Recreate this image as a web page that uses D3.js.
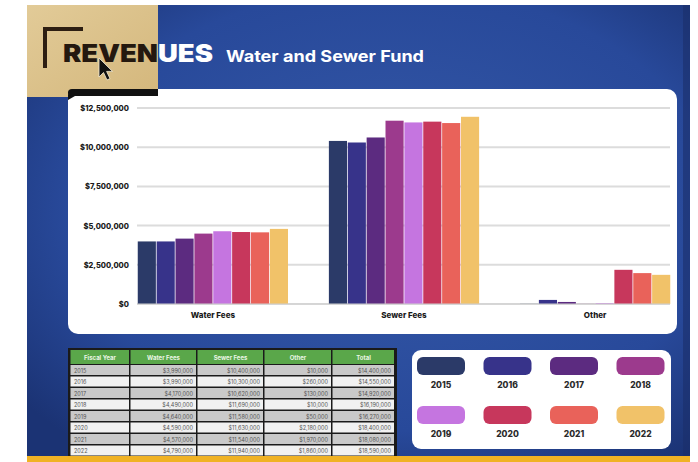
<!DOCTYPE html>
<html><head><meta charset="utf-8">
<script src="https://cdn.jsdelivr.net/npm/d3@7"></script>
<style>
html,body{margin:0;padding:0;background:#fff;}
svg{display:block;font-family:"Inter","Lato","DejaVu Sans",sans-serif;}
</style></head>
<body><svg id="c" width="698" height="462"></svg>
<script>
const categories = ["Water Fees", "Sewer Fees", "Other"];
const years = ["2015", "2016", "2017", "2018", "2019", "2020", "2021", "2022"];
const waterFees = [3990000, 3990000, 4170000, 4490000, 4640000, 4590000, 4570000, 4790000];
const sewerFees = [10400000, 10300000, 10620000, 11690000, 11580000, 11630000, 11540000, 11940000];
const otherRev  = [10000, 260000, 130000, 10000, 50000, 2180000, 1970000, 1860000];
const yearColors = ["#2b3a68", "#37338a", "#5c2b80", "#9c3a8d", "#c575e0", "#c7375c", "#e9625a", "#f1c269"];
const yTicks = [0, 2500000, 5000000, 7500000, 10000000, 12500000];
const tableHeaders = ["Fiscal Year", "Water Fees", "Sewer Fees", "Other", "Total"];

const svg = d3.select("#c");
const defs = svg.append("defs");

// background gradient
const bg = defs.append("radialGradient").attr("id","bg").attr("cx","55%").attr("cy","45%").attr("r","70%");
bg.append("stop").attr("offset","0%").attr("stop-color","#3559a8");
bg.append("stop").attr("offset","70%").attr("stop-color","#28499a");
bg.append("stop").attr("offset","100%").attr("stop-color","#1b3374");
const gold = defs.append("linearGradient").attr("id","gold").attr("x1","0").attr("y1","0").attr("x2","1").attr("y2","1");
gold.append("stop").attr("offset","0%").attr("stop-color","#e2cb98");
gold.append("stop").attr("offset","100%").attr("stop-color","#d4b77c");

svg.append("rect").attr("x",27).attr("y",5).attr("width",663).attr("height",453).attr("fill","url(#bg)");
svg.append("rect").attr("x",683).attr("y",5).attr("width",7).attr("height",453).attr("fill","#1b2f6a").attr("opacity",0.6);

// gold title box
svg.append("rect").attr("x",27).attr("y",5).attr("width",131).attr("height",92).attr("fill","url(#gold)");

// chart panel
svg.append("rect").attr("x",68).attr("y",89).attr("width",609).attr("height",245).attr("rx",10).attr("fill","#ffffff");
// black bar on top-left of panel
svg.append("path").attr("d","M68,100 L68,95 Q68,89 76,89 L158,89 L158,96 L75,96 Z").attr("fill","#111");
svg.append("rect").attr("x",68).attr("y",89).attr("width",90).attr("height",7).attr("rx",4).attr("fill","#111");

// bracket
svg.append("path").attr("d","M45,68 L45,29 L83,29").attr("fill","none").attr("stroke","#2d1e12").attr("stroke-width",4);

// title text with split colouring
defs.append("clipPath").attr("id","clipGold").append("rect").attr("x",0).attr("y",0).attr("width",158).attr("height",100);
defs.append("clipPath").attr("id","clipBlue").append("rect").attr("x",158).attr("y",0).attr("width",540).attr("height",100);
["clipGold","clipBlue"].forEach((cid,i)=>{
  svg.append("text").attr("x",63).attr("y",62).attr("clip-path",`url(#${cid})`)
    .attr("font-size",24).attr("font-weight",900).attr("fill", i===0 ? "#24180f" : "#ffffff")
    .attr("textLength",150).attr("lengthAdjust","spacingAndGlyphs").text("REVENUES");
});
svg.append("text").attr("x",226).attr("y",62).attr("font-size",16).attr("font-weight",700).attr("fill","#ffffff")
  .attr("textLength",198).attr("lengthAdjust","spacingAndGlyphs").text("Water and Sewer Fund");

// mouse cursor
svg.append("path").attr("d","M99,58 L99,77 L103.5,72.5 L107,80 L110,78.6 L106.6,71.4 L112.5,71.4 Z")
  .attr("fill","#111").attr("stroke","#f4ecd8").attr("stroke-width",0.8);

// scales
const y = d3.scaleLinear().domain([0, 12500000]).range([304, 108]);
const x0 = d3.scaleBand().domain(categories).range([137, 671]).paddingInner(0.206).paddingOuter(0);
const x1 = d3.scaleBand().domain(years).range([0, x0.bandwidth()]).padding(0.04);
const color = d3.scaleOrdinal().domain(years).range(yearColors);

// gridlines
svg.append("g").selectAll("line").data(yTicks).join("line")
  .attr("x1",137).attr("x2",670).attr("y1",d=>y(d)).attr("y2",d=>y(d))
  .attr("stroke","#dcdcdc").attr("stroke-width",2);

// y axis
const yAxis = svg.append("g").attr("transform","translate(131,0)")
  .call(d3.axisLeft(y).tickValues(yTicks).tickSize(0).tickPadding(2).tickFormat(d=>"$"+d3.format(",")(d)));
yAxis.select(".domain").remove();
yAxis.selectAll("text").attr("font-size",7.5).attr("font-weight",800).attr("fill","#1a1a1a").attr("font-family","Inter, sans-serif");

// bars
const seriesByCat = { "Water Fees": waterFees, "Sewer Fees": sewerFees, "Other": otherRev };
const groups = svg.append("g").selectAll("g").data(categories).join("g")
  .attr("transform", d=>`translate(${x0(d)},0)`);
groups.selectAll("rect").data(c => years.map((yr,i)=>({yr, v: seriesByCat[c][i]}))).join("rect")
  .attr("x", d=>x1(d.yr)).attr("width", x1.bandwidth())
  .attr("y", d=>y(d.v)).attr("height", d=>y(0)-y(d.v)).attr("fill", d=>color(d.yr));

// x axis labels
const xAxis = svg.append("g").attr("transform","translate(0,306)")
  .call(d3.axisBottom(x0).tickSize(0).tickPadding(6));
xAxis.select(".domain").remove();
xAxis.selectAll("text").attr("font-size",8).attr("font-weight",800).attr("fill","#1a1a1a").attr("font-family","Inter, sans-serif");

// baseline
svg.append("line").attr("x1",137).attr("x2",670).attr("y1",y(0)).attr("y2",y(0)).attr("stroke","#cfcfcf").attr("stroke-width",1);

// table
const colX = [70, 130, 197, 264, 332, 395];
const tTop = 350, headH = 15, rowH = 11.5;
const tbl = svg.append("g");
tbl.append("rect").attr("x",68).attr("y",tTop-2).attr("width",329).attr("height",headH+rowH*years.length+2).attr("fill","#1a1a1a");
tableHeaders.forEach((h,j)=>{
  tbl.append("rect").attr("x",colX[j]+0.5).attr("y",tTop).attr("width",colX[j+1]-colX[j]-1.5).attr("height",headH-1).attr("fill","#5aa74a");
  tbl.append("text").attr("x",(colX[j]+colX[j+1])/2).attr("y",tTop+10).attr("text-anchor","middle")
    .attr("font-size",6).attr("font-weight",700).attr("fill","#eaf6e4").text(h);
});
const fmt = d3.format(",.0f");
years.forEach((yr,i)=>{
  const ry = tTop + headH + i*rowH;
  const total = waterFees[i] + sewerFees[i] + otherRev[i];
  const cells = [yr, "$"+fmt(waterFees[i]), "$"+fmt(sewerFees[i]), "$"+fmt(otherRev[i]), "$"+fmt(total)];
  cells.forEach((c,j)=>{
    tbl.append("rect").attr("x",colX[j]+0.5).attr("y",ry).attr("width",colX[j+1]-colX[j]-1.5).attr("height",rowH-1.5)
      .attr("fill", i%2===0 ? "#c9c9c9" : "#f1f1f1");
    tbl.append("text").attr("x", j===0 ? colX[j]+4 : colX[j+1]-4).attr("y",ry+7.5)
      .attr("text-anchor", j===0 ? "start" : "end").attr("font-size",5.5).attr("fill","#555").text(c);
  });
});

// gold bottom strip
svg.append("rect").attr("x",27).attr("y",456).attr("width",663).attr("height",6).attr("fill","#f0b224");

// legend panel
svg.append("rect").attr("x",412).attr("y",350).attr("width",259).attr("height",99).attr("rx",9).attr("fill","#ffffff");
const leg = svg.append("g").selectAll("g").data(years).join("g")
  .attr("transform",(d,i)=>`translate(${417 + (i%4)*66.5},${357 + Math.floor(i/4)*49})`);
leg.append("rect").attr("width",48).attr("height",18).attr("rx",6).attr("fill",d=>color(d));
leg.append("text").attr("x",24).attr("y",31).attr("text-anchor","middle").attr("font-size",8.5).attr("font-weight",800)
  .attr("fill","#2a2a2a").text(d=>d);
</script></body></html>
